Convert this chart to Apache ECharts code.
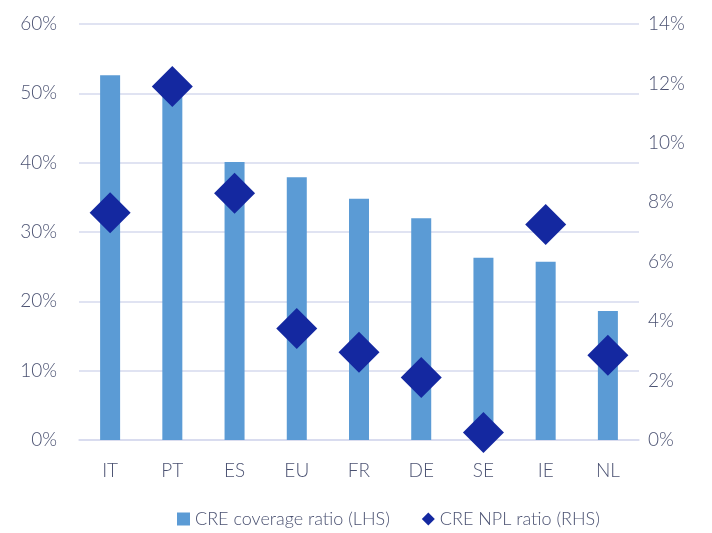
<!DOCTYPE html>
<html>
<head>
<meta charset="utf-8">
<script src="https://cdn.jsdelivr.net/npm/echarts@6/dist/echarts.min.js"></script>
<style>
  html, body { margin: 0; padding: 0; background: #fff; }
  #chart { width: 712px; height: 533px; }
</style>
</head>
<body>
<div id="chart"></div>
<script>
// 国家 / 地区
const countries = ['IT', 'PT', 'ES', 'EU', 'FR', 'DE', 'SE', 'IE', 'NL'];
// CRE coverage ratio (LHS), %
const coverageRatio = [52.6, 51.5, 40.1, 37.9, 34.8, 32.0, 26.3, 25.7, 18.6];
// CRE NPL ratio (RHS), %
const nplRatio = [7.65, 11.9, 8.3, 3.75, 2.95, 2.1, 0.25, 7.25, 2.85];

const textColor = '#4b5272';
const gridColor = '#d6daee';
const fontFamily = 'Lato, "Open Sans", sans-serif';

let myChart = echarts.init(document.getElementById('chart'));
let option = {
  animation: false,
  grid: { left: 79, right: 73, top: 24, bottom: 93 },
  legend: {
    bottom: 0,
    left: 172,
    itemGap: 32,
    itemWidth: 13,
    itemHeight: 13,
    textStyle: { color: textColor, fontSize: 18, fontFamily: fontFamily, fontWeight: 300 },
    data: [
      { name: 'CRE coverage ratio (LHS)', icon: 'rect' },
      { name: 'CRE NPL ratio (RHS)', icon: 'diamond' }
    ]
  },
  xAxis: {
    type: 'category',
    data: countries,
    axisTick: { show: false },
    axisLine: { lineStyle: { color: gridColor, width: 1.5 } },
    axisLabel: { color: textColor, fontSize: 19, fontFamily: fontFamily, fontWeight: 300, margin: 21 }
  },
  yAxis: [
    {
      type: 'value', min: 0, max: 60, interval: 10,
      axisLabel: { formatter: '{value}%', color: textColor, fontSize: 19, fontFamily: fontFamily, fontWeight: 300, margin: 22 },
      splitLine: { lineStyle: { color: gridColor, width: 1.5 } },
      axisLine: { show: false }, axisTick: { show: false }
    },
    {
      type: 'value', min: 0, max: 14, interval: 2,
      axisLabel: { formatter: '{value}%', color: textColor, fontSize: 19, fontFamily: fontFamily, fontWeight: 300, margin: 9 },
      splitLine: { show: false },
      axisLine: { show: false }, axisTick: { show: false }
    }
  ],
  series: [
    {
      name: 'CRE coverage ratio (LHS)',
      type: 'bar',
      yAxisIndex: 0,
      barWidth: 20,
      itemStyle: { color: '#5b9bd5' },
      data: coverageRatio
    },
    {
      name: 'CRE NPL ratio (RHS)',
      type: 'scatter',
      yAxisIndex: 1,
      symbol: 'diamond',
      symbolSize: [41, 41],
      itemStyle: { color: '#1428a0', opacity: 1 },
      data: nplRatio
    }
  ]
};
myChart.setOption(option);
</script>
</body>
</html>
